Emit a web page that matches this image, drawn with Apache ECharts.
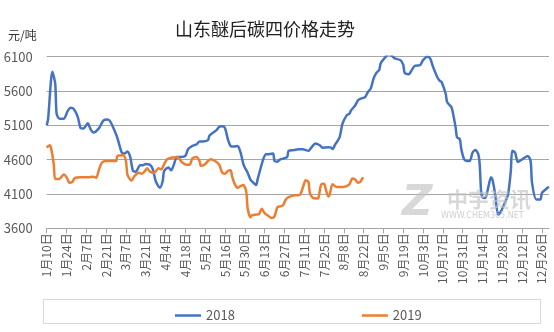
<!DOCTYPE html>
<html>
<head>
<meta charset="utf-8">
<script src="https://cdn.jsdelivr.net/npm/echarts@6/dist/echarts.min.js"></script>
<style>
html,body{margin:0;padding:0;background:#fff;}
#chart{width:554px;height:332px;}
</style>
</head>
<body>
<div id="chart"></div>
<script>
const titleText = '山东醚后碳四价格走势';
const unitText = '元/吨';
const tickLabels = ['1月10日','1月24日','2月7日','2月21日','3月7日','3月21日','4月4日','4月18日','5月2日','5月16日','5月30日','6月13日','6月27日','7月11日','7月25日','8月8日','8月22日','9月5日','9月19日','10月3日','10月17日','10月31日','11月14日','11月28日','12月12日','12月26日'];
const seriesNames = ['2018', '2019'];

// day offset from 1月10日
const days2018 = [0,1,4,6,7,9,12,15,17,19,22,24,26,29,31,33,37,40,43,45,48,50,53,55,57,59,61,63,66,68,70,73,75,77,80,82,83,86,88,90,92,95,98,100,103,106,108,110,114,115,118,120,122,124,126,128,130,132,135,137,139,140,142,144,146,148,149,151,153,155,157,160,161,163,165,168,170,171,175,178,181,185,187,190,193,195,199,201,202,204,207,209,212,214,215,218,220,222,225,227,229,231,233,235,236,238,242,244,246,250,252,253,256,258,260,264,266,269,271,273,276,278,279,282,283,286,287,289,290,292,293,295,297,299,301,303,305,306,307,308,310,312,314,315,317,319,321,323,326,328,329,331,333,336,340,342,343,346,349,350,354,355];
const values2018 = [5100,5195,5880,5710,5270,5195,5195,5315,5355,5340,5220,5060,5055,5130,5045,4995,5060,5170,5185,5155,5020,4915,4705,4690,4720,4640,4435,4425,4520,4520,4535,4525,4460,4290,4190,4290,4435,4485,4445,4535,4640,4640,4655,4755,4800,4825,4865,4865,4885,4950,5000,5030,5080,5085,5060,4900,4800,4790,4800,4705,4535,4485,4410,4310,4265,4230,4310,4460,4605,4680,4680,4690,4580,4570,4605,4620,4640,4730,4740,4750,4750,4730,4775,4835,4810,4775,4780,4775,4755,4825,4925,5120,5245,5270,5315,5390,5465,5490,5510,5585,5635,5780,5865,5905,6000,6060,6140,6110,6075,6050,5980,5865,5845,5905,5965,5980,6050,6100,6075,5955,5805,5745,5735,5560,5440,5365,5290,5070,4925,4900,4755,4605,4580,4580,4705,4740,4680,4535,4140,4050,4040,4190,4345,4310,4090,3800,3845,3935,4090,4435,4730,4705,4565,4605,4655,4580,4265,4020,4020,4115,4190,4205];

const days2019 = [0,2,3,5,6,9,12,14,16,18,20,24,29,33,35,37,39,42,45,49,50,54,56,57,59,60,62,65,67,69,71,73,76,79,81,83,85,87,89,92,94,96,99,101,103,106,108,109,112,114,116,119,122,124,126,128,130,131,133,135,137,139,141,142,144,145,148,150,152,154,157,159,161,163,165,167,169,171,175,179,181,183,185,186,188,191,192,194,196,197,199,200,202,205,207,209,212,214,216,218,220,222,223,224];
const values2019 = [4775,4810,4775,4535,4320,4320,4385,4345,4265,4275,4335,4345,4345,4350,4335,4460,4555,4580,4580,4580,4655,4665,4580,4385,4310,4298,4360,4410,4395,4425,4475,4425,4410,4475,4460,4535,4605,4620,4630,4640,4605,4555,4525,4525,4620,4640,4580,4510,4535,4580,4605,4580,4525,4410,4395,4435,4445,4360,4240,4190,4215,4230,4140,3895,3760,3790,3800,3805,3885,3820,3775,3750,3775,3905,3920,3935,4020,4055,4080,4090,4190,4300,4275,4115,4045,4035,4040,4240,4250,4190,4065,4090,4240,4200,4200,4200,4215,4240,4325,4310,4265,4285,4325,4335];

const yMin = 3600, yMax = 6100, yStep = 500;
const tickStep = 14;

const FONT = '"Noto Sans CJK SC", "Microsoft YaHei", sans-serif';
const chart = echarts.init(document.getElementById('chart'), null, {renderer: 'canvas'});
const tickValues = tickLabels.map((_, i) => i * tickStep);

const option = {
  animation: false,
  backgroundColor: '#fff',
  title: {
    text: titleText,
    left: 260, top: 15, textAlign: 'center',
    textStyle: {fontFamily: FONT, fontSize: 18, fontWeight: 'normal', color: '#222'}
  },
  graphic: [
    {type: 'text', left: 8, top: 29, z: 10, style: {text: unitText, font: '12px ' + FONT, fill: '#333'}},
    {type: 'rect', shape: {x: 43.5, y: 299.5, width: 497, height: 24}, style: {fill: 'none', stroke: '#d9d9d9', lineWidth: 1}, z: 1},
    {type: 'text', left: 402, top: 183, z: 100, style: {text: 'Z', font: 'italic bold 42px "DejaVu Sans", sans-serif', fill: 'rgba(195,195,195,0.65)'}},
    {type: 'text', left: 447, top: 189, z: 100, style: {text: '中宇资讯', font: 'bold 21px ' + FONT, fill: 'rgba(195,195,195,0.65)'}},
    {type: 'text', left: 441, top: 212, z: 100, style: {text: 'WWW.CHEM365.NET', font: '8px "DejaVu Sans", sans-serif', fill: 'rgba(190,190,190,0.75)'}}
  ],
  legend: {
    left: 170, top: 304,
    icon: 'rect', itemWidth: 26, itemHeight: 2.5, itemGap: 127,
    textStyle: {fontFamily: FONT, fontSize: 13, color: '#595959'},
    data: seriesNames
  },
  grid: {left: 46.7, right: 5, top: 56.7, bottom: 103.7, containLabel: false},
  xAxis: {
    type: 'value', min: 0, max: 355, interval: tickStep,
    axisLine: {show: true, lineStyle: {color: '#a6a6a6', width: 1}},
    axisTick: {show: true, length: 5, lineStyle: {color: '#a6a6a6'}, customValues: tickValues},
    axisLabel: {
      customValues: tickValues,
      rotate: 90, fontFamily: FONT, fontSize: 12, color: '#595959', margin: 5,
      formatter: v => tickLabels[Math.round(v / tickStep)] || ''
    },
    splitLine: {show: false}
  },
  yAxis: {
    type: 'value', min: yMin, max: yMax, interval: yStep,
    axisLine: {show: false}, axisTick: {show: false},
    axisLabel: {fontFamily: FONT, fontSize: 13, color: '#595959', margin: 14, formatter: v => String(v)},
    splitLine: {lineStyle: {color: '#a6a6a6', width: 1}}
  },
  series: [
    {
      name: seriesNames[0], type: 'line', showSymbol: false, symbol: 'none',
      smooth: 0.25, color: '#4472C4',
      lineStyle: {width: 2.5, color: '#4472C4'},
      data: days2018.map((d, i) => [d, values2018[i]])
    },
    {
      name: seriesNames[1], type: 'line', showSymbol: false, symbol: 'none',
      smooth: 0.25, color: '#ED7D31',
      lineStyle: {width: 2.5, color: '#ED7D31'},
      data: days2019.map((d, i) => [d, values2019[i]])
    }
  ]
};
chart.setOption(option);
</script>
</body>
</html>
